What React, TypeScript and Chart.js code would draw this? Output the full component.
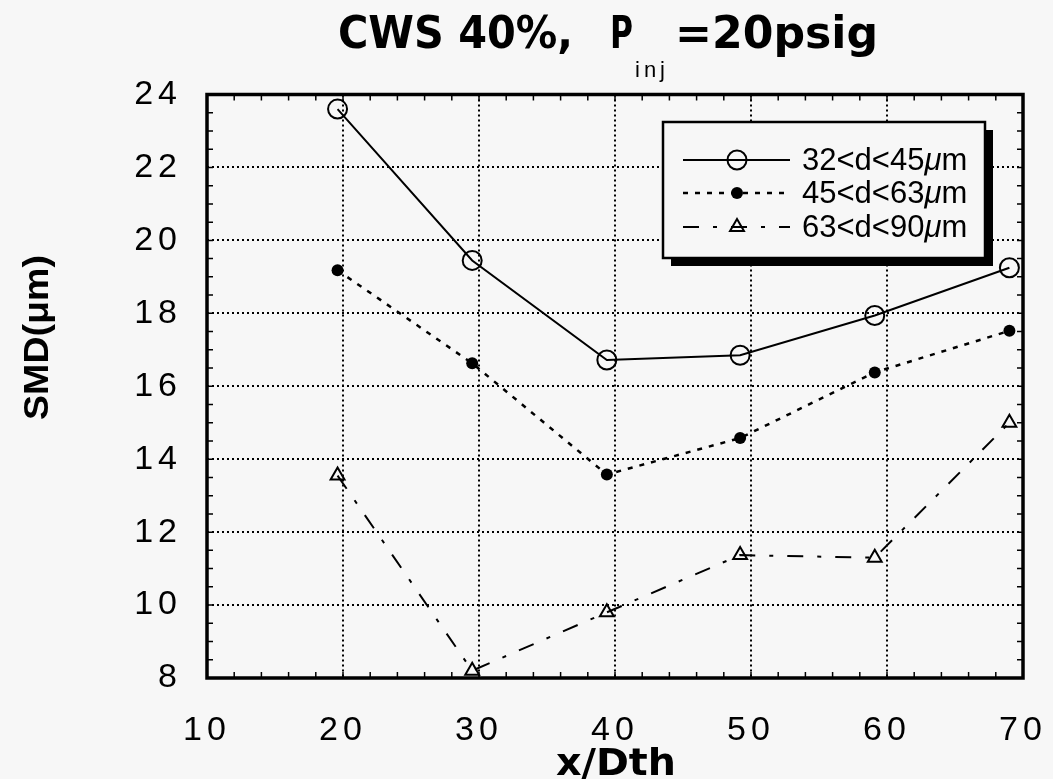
import React, { useEffect, useRef } from 'react';
import { Chart, registerables } from 'chart.js';

Chart.register(...registerables);

// ---- data ----
const xPositions = [19.6, 29.5, 39.4, 49.2, 59.1, 69.0];
const smd32to45 = [23.6, 19.45, 16.72, 16.85, 17.94, 19.25];
const smd45to63 = [19.18, 16.63, 13.58, 14.58, 16.38, 17.52];
const smd63to90 = [13.55, 8.2, 9.8, 11.37, 11.3, 15.0];
const seriesLabels = ['32<d<45μm', '45<d<63μm', '63<d<90μm'];
const xTickValues = [10, 20, 30, 40, 50, 60, 70];
const yTickValues = [8, 10, 12, 14, 16, 18, 20, 22, 24];
const titleMain = 'CWS 40%,';
const titleP = 'P';
const titleSub = 'inj';
const titleRest = '=20psig';
const xAxisTitle = 'x/Dth';
const yAxisTitle = 'SMD(μm)';

const BG = '#f7f7f7';
const INK = '#000000';
const DASH_S2 = [5, 7];
const DASH_S3 = [16, 14, 4, 14];

const toPoints = (ys: number[]) => xPositions.map((x, i) => ({ x, y: ys[i] }));

function fitText(ctx: CanvasRenderingContext2D, text: string, x: number, y: number, w: number, font: string) {
  ctx.save();
  ctx.font = font;
  ctx.textAlign = 'left';
  ctx.textBaseline = 'alphabetic';
  const m = ctx.measureText(text).width;
  const s = w / m;
  ctx.translate(x, y);
  ctx.scale(s, 1);
  ctx.fillStyle = INK;
  ctx.fillText(text, 0, 0);
  ctx.restore();
}

function drawMarker(ctx: CanvasRenderingContext2D, kind: number, x: number, y: number) {
  ctx.save();
  ctx.setLineDash([]);
  ctx.strokeStyle = INK;
  ctx.fillStyle = INK;
  ctx.lineWidth = 2;
  if (kind === 0) {
    ctx.beginPath();
    ctx.arc(x, y, 9.5, 0, Math.PI * 2);
    ctx.stroke();
  } else if (kind === 1) {
    ctx.beginPath();
    ctx.arc(x, y, 6, 0, Math.PI * 2);
    ctx.fill();
  } else {
    const r = 8;
    ctx.beginPath();
    ctx.moveTo(x, y - r);
    ctx.lineTo(x + r * 0.87, y + r * 0.5);
    ctx.lineTo(x - r * 0.87, y + r * 0.5);
    ctx.closePath();
    ctx.stroke();
  }
  ctx.restore();
}

const decorPlugin = {
  id: 'decor',
  beforeDraw(chart: any) {
    const ctx: CanvasRenderingContext2D = chart.ctx;
    ctx.save();
    ctx.fillStyle = BG;
    ctx.fillRect(0, 0, chart.width, chart.height);
    ctx.restore();
    (ctx as any).letterSpacing = '5px';
  },
  beforeDatasetsDraw(chart: any) {
    (chart.ctx as any).letterSpacing = '0px';
  },
  afterDatasetsDraw(chart: any) {
    const ctx: CanvasRenderingContext2D = chart.ctx;
    const { left, right, top, bottom } = chart.chartArea;
    const xs = chart.scales.x;
    const ys = chart.scales.y;
    ctx.save();
    (ctx as any).letterSpacing = '0px';
    ctx.setLineDash([]);
    ctx.strokeStyle = INK;

    // minor ticks
    ctx.lineWidth = 1.5;
    ctx.beginPath();
    for (let v = 8; v <= 24.001; v += 0.5) {
      const py = ys.getPixelForValue(v);
      ctx.moveTo(left, py); ctx.lineTo(left + 6, py);
      ctx.moveTo(right, py); ctx.lineTo(right - 6, py);
    }
    for (let v = 10; v <= 70.001; v += 2) {
      const px = xs.getPixelForValue(v);
      ctx.moveTo(px, bottom); ctx.lineTo(px, bottom - 6);
      ctx.moveTo(px, top); ctx.lineTo(px, top + 6);
    }
    ctx.stroke();

    // frame
    ctx.lineWidth = 3.5;
    ctx.strokeRect(left, top, right - left, bottom - top);

    // legend
    const lx = 663, ly = 122, lw = 322, lh = 136, sh = 8;
    ctx.fillStyle = INK;
    ctx.fillRect(lx + sh, ly + sh, lw, lh);
    ctx.fillStyle = BG;
    ctx.fillRect(lx, ly, lw, lh);
    ctx.lineWidth = 2.5;
    ctx.strokeRect(lx, ly, lw, lh);
    const rows = [160, 193, 227];
    const dashes = [[], DASH_S2, DASH_S3];
    for (let i = 0; i < 3; i++) {
      const ry = rows[i];
      ctx.save();
      ctx.setLineDash(dashes[i]);
      ctx.lineWidth = i === 1 ? 2.5 : 2;
      ctx.beginPath();
      ctx.moveTo(683, ry); ctx.lineTo(790, ry);
      ctx.stroke();
      ctx.restore();
      drawMarker(ctx, i, 737, ry);
      const lab = seriesLabels[i];
      const k = lab.indexOf('μ');
      const pre = lab.slice(0, k);
      ctx.fillStyle = INK;
      ctx.textBaseline = 'middle';
      ctx.textAlign = 'left';
      ctx.font = '31px "Liberation Sans", Arial, sans-serif';
      let tx = 802;
      ctx.fillText(pre, tx, ry + 1);
      tx += ctx.measureText(pre).width;
      ctx.font = 'italic 31px "Liberation Sans", Arial, sans-serif';
      ctx.fillText('μ', tx, ry + 1);
      tx += ctx.measureText('μ').width;
      ctx.font = '31px "Liberation Sans", Arial, sans-serif';
      ctx.fillText(lab.slice(k + 1), tx, ry + 1);
    }

    // title
    const tf = 'bold 44px "Liberation Sans Narrow", "DejaVu Sans Condensed", "Liberation Sans", sans-serif';
    fitText(ctx, titleMain, 338, 48, 235, tf);
    fitText(ctx, titleP, 610, 48, 23, tf);
    fitText(ctx, titleRest, 675, 48, 203, tf);
    (ctx as any).letterSpacing = '4px';
    ctx.font = '22px "Liberation Sans", Arial, sans-serif';
    ctx.textAlign = 'left';
    ctx.textBaseline = 'alphabetic';
    ctx.fillStyle = INK;
    ctx.fillText(titleSub, 635, 77);
    (ctx as any).letterSpacing = '0px';

    // x axis title
    fitText(ctx, xAxisTitle, 556, 775, 120, 'bold 38px "Liberation Sans Narrow", "DejaVu Sans Condensed", "Liberation Sans", sans-serif');

    // y axis title
    ctx.save();
    ctx.translate(48, 420);
    ctx.rotate(-Math.PI / 2);
    fitText(ctx, yAxisTitle, 0, 0, 165, 'bold 35px "Liberation Sans", Arial, sans-serif');
    ctx.restore();

    ctx.restore();
  },
};

export default function App() {
  const ref = useRef<HTMLCanvasElement | null>(null);
  useEffect(() => {
    if (!ref.current) return;
    const tickFont = { family: '"Liberation Sans", Arial, sans-serif', size: 34 };
    const chart = new Chart(ref.current, {
      type: 'scatter',
      data: {
        datasets: [
          {
            label: seriesLabels[0],
            data: toPoints(smd32to45),
            showLine: true,
            borderColor: INK,
            borderWidth: 2,
            pointStyle: 'circle',
            pointRadius: 9.5,
            pointBorderWidth: 2,
            pointBackgroundColor: 'rgba(0,0,0,0)',
            pointBorderColor: INK,
            clip: false as any,
          },
          {
            label: seriesLabels[1],
            data: toPoints(smd45to63),
            showLine: true,
            borderColor: INK,
            borderWidth: 2.5,
            borderDash: DASH_S2,
            pointStyle: 'circle',
            pointRadius: 6,
            pointBorderWidth: 0,
            pointBackgroundColor: INK,
            pointBorderColor: INK,
            clip: false as any,
          },
          {
            label: seriesLabels[2],
            data: toPoints(smd63to90),
            showLine: true,
            borderColor: INK,
            borderWidth: 2,
            borderDash: DASH_S3,
            pointStyle: 'triangle',
            pointRadius: 8,
            pointBorderWidth: 2,
            pointBackgroundColor: 'rgba(0,0,0,0)',
            pointBorderColor: INK,
            clip: false as any,
          },
        ],
      },
      options: {
        responsive: false,
        animation: false,
        events: [],
        layout: { padding: { top: 94.5, right: 30, left: 0, bottom: 0 } },
        plugins: { legend: { display: false }, tooltip: { enabled: false }, title: { display: false } },
        scales: {
          x: {
            type: 'linear',
            min: 10,
            max: 70,
            afterFit: (s: any) => { s.height = 101; s.paddingLeft = 0; s.paddingRight = 0; },
            afterBuildTicks: (s: any) => { s.ticks = xTickValues.map((v) => ({ value: v })); },
            ticks: { font: tickFont, color: INK, padding: 32, maxRotation: 0, autoSkip: false },
            grid: { color: INK, lineWidth: 2, drawTicks: false, tickLength: 0 },
            border: { display: false, dash: [2, 3] },
          },
          y: {
            type: 'linear',
            min: 8,
            max: 24,
            afterFit: (s: any) => { s.width = 207; s.paddingTop = 0; s.paddingBottom = 0; },
            afterBuildTicks: (s: any) => { s.ticks = yTickValues.map((v) => ({ value: v })); },
            ticks: { font: tickFont, color: INK, padding: 25, autoSkip: false },
            grid: { color: INK, lineWidth: 2, drawTicks: false, tickLength: 0 },
            border: { display: false, dash: [2, 3] },
          },
        },
      } as any,
      plugins: [decorPlugin as any],
    });
    return () => chart.destroy();
  }, []);
  return (
    <div style={{ position: 'absolute', left: 0, top: 0, width: 1053, height: 779, background: BG }}>
      <canvas ref={ref} width={1053} height={779} style={{ display: 'block', width: 1053, height: 779 }} />
    </div>
  );
}
